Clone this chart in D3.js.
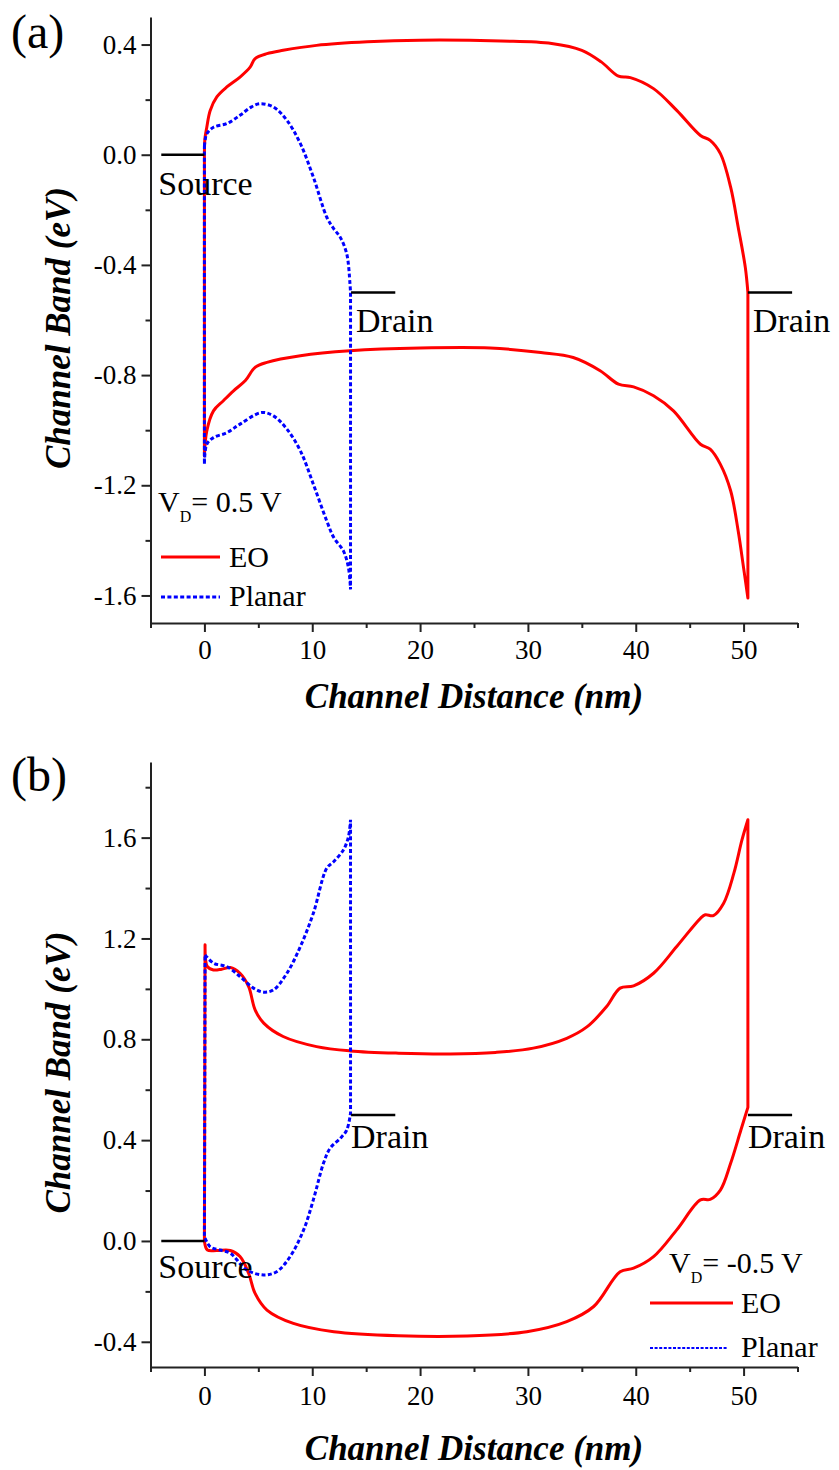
<!DOCTYPE html>
<html>
<head>
<meta charset="utf-8">
<script src="https://cdn.jsdelivr.net/npm/d3@7"></script>
<style>
body { margin: 0; background: #fff; }
text { font-family: "Liberation Serif", "Times New Roman", serif; fill: #000; }
.title { font-weight: bold; font-style: italic; font-size: 35px; }
</style>
</head>
<body>
<svg id="chart" width="839" height="1470"></svg>
<script>
// x axis (shared)
var xTicksMajor = [0, 10, 20, 30, 40, 50];
var xTicksMinor = [-5, 5, 15, 25, 35, 45, 55];

// panel (a) y axis
var aYTicks = [-1.6, -1.2, -0.8, -0.4, 0.0, 0.4];
var aYLabels = ["-1.6", "-1.2", "-0.8", "-0.4", "0.0", "0.4"];
var aYMinor = [-1.4, -1.0, -0.6, -0.2, 0.2];

// panel (b) y axis
var bYTicks = [-0.4, 0.0, 0.4, 0.8, 1.2, 1.6];
var bYLabels = ["-0.4", "0.0", "0.4", "0.8", "1.2", "1.6"];
var bYMinor = [-0.2, 0.2, 0.6, 1.0, 1.4, 1.8];

// contact markers
var sourceX = [-4, 0];
var drainX = [[13.6, 17.7], [50.4, 54.5]];
var aContactY = [0.0, -0.5];   // source, drain (V_D = 0.5 V)
var bContactY = [0.0, 0.5];    // source, drain (V_D = -0.5 V)

// (a) V_D = 0.5 V : [distance nm, energy eV]
var aEOCond = [[0,0],[0.05,0.06],[0.22,0.10],[0.53,0.16],[1.15,0.21],[2.08,0.246],[3.3,0.282],[4.24,0.318],[4.7,0.349],[5.8,0.367],[7.3,0.379],[10.4,0.397],[15.1,0.41],[20,0.416],[27.5,0.413],[32.2,0.404],[35,0.379],[36.8,0.337],[38.4,0.285],[39.5,0.28],[41.65,0.24],[43.8,0.161],[46,0.07],[46.9,0.052],[47.85,0.004],[48.8,-0.118],[49.5,-0.263],[50.16,-0.409],[50.4,-0.5]];
var aEOVal = [[0,-1.094],[0.22,-1.003],[0.84,-0.93],[1.76,-0.893],[2.7,-0.857],[3.8,-0.82],[4.7,-0.772],[5.8,-0.754],[8.9,-0.73],[13.5,-0.712],[20,-0.702],[26.5,-0.702],[31.2,-0.718],[34.2,-0.736],[36.7,-0.784],[38.4,-0.833],[39.8,-0.843],[41.65,-0.875],[43.5,-0.93],[46,-1.051],[46.9,-1.069],[47.85,-1.124],[48.8,-1.22],[49.5,-1.366],[50,-1.5],[50.4,-1.609]];
var aPlanarCond = [[0,0.03],[0.06,0.052],[0.22,0.076],[0.84,0.1],[2.08,0.113],[3.3,0.143],[4.3,0.172],[5.15,0.185],[6.4,0.173],[7.65,0.125],[8.9,0.04],[10.1,-0.081],[11.35,-0.227],[12,-0.269],[12.6,-0.3],[13.2,-0.36],[13.5,-0.469],[13.55,-0.5]];
var aPlanarVal = [[0,-1.124],[0.22,-1.051],[0.84,-1.027],[2.08,-1.009],[3.3,-0.978],[5.3,-0.936],[6.4,-0.948],[7.65,-0.996],[8.9,-1.075],[10.1,-1.196],[11.35,-1.33],[12,-1.39],[12.9,-1.439],[13.36,-1.5],[13.55,-1.578]];

// (b) V_D = -0.5 V
var bEOCond = [[0.06,1.175],[0.28,1.088],[0.84,1.075],[1.6,1.078],[2.4,1.085],[3.3,1.062],[4.1,1.009],[4.7,0.917],[5.5,0.864],[7.3,0.811],[10.4,0.771],[13.5,0.754],[18,0.745],[22.8,0.742],[27,0.748],[30.5,0.765],[33.6,0.804],[35.5,0.85],[37.3,0.93],[38.55,1.003],[39.8,1.012],[41.65,1.062],[43.8,1.168],[46,1.28],[46.45,1.294],[47.2,1.291],[48.15,1.34],[49.1,1.459],[49.85,1.591],[50.4,1.671]];
var bEOVal = [[0,0],[0.28,-0.036],[1.15,-0.038],[2.4,-0.038],[3.3,-0.062],[4.1,-0.128],[4.7,-0.208],[5.8,-0.274],[8.25,-0.327],[12,-0.36],[18,-0.376],[24.3,-0.377],[29.9,-0.36],[33.6,-0.32],[36.1,-0.26],[38.55,-0.122],[39.8,-0.108],[41.65,-0.062],[43.8,0.044],[46,0.163],[46.9,0.165],[47.85,0.202],[48.8,0.308],[49.75,0.44],[50.4,0.53]];
var bPlanarCond = [[0.06,1.135],[0.84,1.102],[2.08,1.088],[3.3,1.049],[4.55,1.003],[5.5,0.987],[6.4,0.996],[7.65,1.062],[8.9,1.168],[10.1,1.3],[11.35,1.479],[12,1.505],[12.9,1.552],[13.36,1.604],[13.55,1.671]];
var bPlanarVal = [[0,0.017],[0.53,-0.023],[1.46,-0.036],[2.4,-0.049],[3.93,-0.115],[5.5,-0.135],[6.7,-0.122],[7.95,-0.062],[9.2,0.044],[10.1,0.163],[11.04,0.308],[11.66,0.368],[12.6,0.407],[13.2,0.44],[13.55,0.507]];

var svg = d3.select("#chart");
svg.append("rect").attr("width", 839).attr("height", 1470).attr("fill", "#fff");

var x = d3.scaleLinear().domain([-5, 55]).range([150.5, 797.5]);

var panels = [
  { tag: "(a)", tagY: 48, y: d3.scaleLinear().domain([-1.7, 0.5]).range([623, 17]),
    ticks: aYTicks, labels: aYLabels, minor: aYMinor, contact: aContactY,
    eo: [aEOCond, aEOVal], planar: [aPlanarCond, aPlanarVal],
    srcDy: 40, drainDy: 40, drainDx: 5, xLabelPad: 8, xTitleY: 708,
    vd: "= 0.5 V", leg: { x: 158, vdY: 512, x0: 161, x1: 220, tx: 229, eoY: 557, plY: 597, fine: false } },
  { tag: "(b)", tagY: 791, y: d3.scaleLinear().domain([-0.5, 1.9]).range([1367, 762]),
    ticks: bYTicks, labels: bYLabels, minor: bYMinor, contact: bContactY,
    eo: [bEOCond, bEOVal], planar: [bPlanarCond, bPlanarVal],
    srcDy: 37, drainDy: 33, drainDx: 0, xLabelPad: 10, xTitleY: 1460,
    vd: "= -0.5 V", leg: { x: 669, vdY: 1273, x0: 650, x1: 733, tx: 741, eoY: 1303, plY: 1348, fine: true } }
];

panels.forEach(function(p) {
  var y = p.y;
  var g = svg.append("g");
  var bottom = y.range()[0], top = y.range()[1];

  // axes
  var yMinor = g.append("g").attr("transform", "translate(" + x(-5) + ",0)")
      .call(d3.axisLeft(y).tickValues(p.minor).tickFormat("").tickSize(5).tickSizeOuter(0));
  yMinor.select(".domain").remove();
  var yMajor = g.append("g").attr("transform", "translate(" + x(-5) + ",0)")
      .call(d3.axisLeft(y).tickValues(p.ticks).tickFormat(function(d, i) { return p.labels[i]; })
        .tickSize(9).tickSizeOuter(0).tickPadding(5));
  var xMinor = g.append("g").attr("transform", "translate(0," + bottom + ")")
      .call(d3.axisBottom(x).tickValues(xTicksMinor).tickFormat("").tickSize(5).tickSizeOuter(0));
  xMinor.select(".domain").remove();
  var xMajor = g.append("g").attr("transform", "translate(0," + bottom + ")")
      .call(d3.axisBottom(x).tickValues(xTicksMajor).tickFormat(d3.format("d"))
        .tickSize(9).tickSizeOuter(0).tickPadding(p.xLabelPad));

  g.selectAll(".domain, .tick line").attr("stroke", "#222").attr("stroke-width", 2);
  g.selectAll(".tick text").attr("font-family", "Liberation Serif").attr("font-size", 27).attr("fill", "#000");

  // titles
  g.append("text").attr("class", "title").attr("text-anchor", "middle")
      .attr("x", (x.range()[0] + x.range()[1]) / 2).attr("y", p.xTitleY)
      .text("Channel Distance (nm)");
  g.append("text").attr("class", "title").attr("text-anchor", "middle")
      .attr("transform", "rotate(-90)")
      .attr("x", -((top + bottom) / 2 + 8)).attr("y", 70)
      .text("Channel Band (eV)");
  g.append("text").attr("x", 11).attr("y", p.tagY).style("font-size", "48px").text(p.tag);

  // band curves: conduction, straight drop/rise at the contact, valence back, closed
  var line = d3.line()
      .x(function(d) { return x(d[0]); })
      .y(function(d) { return y(d[1]); })
      .curve(d3.curveCatmullRom.alpha(0.5));
  function loop(band) {
    return line(band[0]) + line(band[1].slice().reverse()).replace(/^M/, "L") + "Z";
  }

  g.append("path")
      .attr("d", loop(p.eo))
      .attr("fill", "none").attr("stroke", "#ff0000").attr("stroke-width", 3).attr("stroke-linejoin", "round");
  g.append("path")
      .attr("d", loop(p.planar))
      .attr("fill", "none").attr("stroke", "#0000ff").attr("stroke-width", 3).attr("stroke-dasharray", "4,2.4");

  // source / drain markers
  g.append("line").attr("x1", x(sourceX[0])).attr("x2", x(sourceX[1]))
      .attr("y1", y(p.contact[0])).attr("y2", y(p.contact[0]))
      .attr("stroke", "#000").attr("stroke-width", 2.5);
  g.append("text").attr("x", x(sourceX[0]) - 3).attr("y", y(p.contact[0]) + p.srcDy)
      .style("font-size", "34px").text("Source");
  drainX.forEach(function(d) {
    g.append("line").attr("x1", x(d[0])).attr("x2", x(d[1]))
        .attr("y1", y(p.contact[1])).attr("y2", y(p.contact[1]))
        .attr("stroke", "#000").attr("stroke-width", 2.5);
    g.append("text").attr("x", x(d[0]) + p.drainDx).attr("y", y(p.contact[1]) + p.drainDy)
        .style("font-size", "34px").text("Drain");
  });

  // legend
  var L = p.leg;
  var vd = g.append("text").attr("x", L.x).attr("y", L.vdY).style("font-size", "30px");
  vd.append("tspan").text("V");
  vd.append("tspan").attr("dy", 10).style("font-size", "16px").text("D");
  vd.append("tspan").attr("dy", -10).text(p.vd);

  g.append("line").attr("x1", L.x0).attr("x2", L.x1).attr("y1", L.eoY).attr("y2", L.eoY)
      .attr("stroke", "#ff0000").attr("stroke-width", 3);
  g.append("text").attr("x", L.tx).attr("y", L.eoY + 10).style("font-size", "30px").text("EO");
  g.append("line").attr("x1", L.x0).attr("x2", L.fine ? L.x1 - 5 : L.x1).attr("y1", L.plY).attr("y2", L.plY)
      .attr("stroke", "#0000ff").attr("stroke-width", L.fine ? 2 : 3)
      .attr("stroke-dasharray", L.fine ? "3,1.6" : "4,2.4");
  g.append("text").attr("x", L.tx).attr("y", L.plY + 9).style("font-size", "30px").text("Planar");
});
</script>
</body>
</html>
